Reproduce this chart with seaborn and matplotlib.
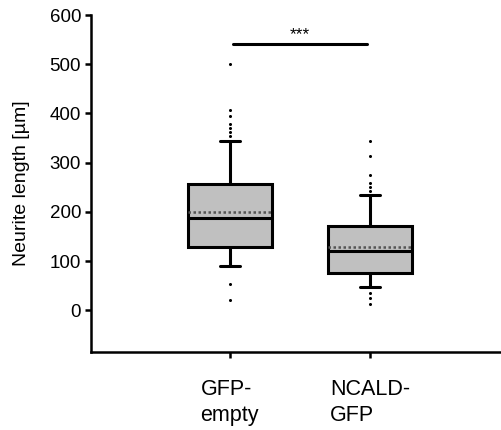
import pandas as pd
import seaborn as sns
import matplotlib
matplotlib.use("Agg")
import matplotlib.pyplot as plt

# Datos (resumen de cada caja)
grupos = ["GFP-\nempty", "NCALD-\nGFP"]
q1 = [128, 75]
mediana = [187, 120]
q3 = [256, 171]
bigote_bajo = [91, 47]
bigote_alto = [345, 234]
media = [199, 128]
atipicos_gfp = [500, 408, 395, 378, 370, 362, 355, 53, 22]
atipicos_ncald = [345, 313, 274, 258, 250, 242, 35, 25, 13]
y_ticks = [0, 100, 200, 300, 400, 500, 600]

sns.set_style("ticks")
plt.rcParams["font.family"] = ["Liberation Sans", "DejaVu Sans"]
plt.rcParams["text.color"] = "black"
plt.rcParams["axes.labelcolor"] = "black"
plt.rcParams["xtick.color"] = "black"
plt.rcParams["ytick.color"] = "black"
plt.rcParams["axes.edgecolor"] = "black"

fig = plt.figure(figsize=(5.02, 4.3), dpi=100)
ax = fig.add_axes([0.181, 0.181, 0.822, 0.784])

# Puntos atipicos con seaborn
df = pd.DataFrame({
    "grupo": [grupos[0]] * len(atipicos_gfp) + [grupos[1]] * len(atipicos_ncald),
    "valor": atipicos_gfp + atipicos_ncald,
})
sns.stripplot(data=df, x="grupo", y="valor", order=grupos, jitter=False,
              color="black", size=2.2, ax=ax, zorder=3)

# Cajas a partir de las estadisticas
stats = []
for i in range(len(grupos)):
    stats.append({"med": mediana[i], "q1": q1[i], "q3": q3[i],
                  "whislo": bigote_bajo[i], "whishi": bigote_alto[i],
                  "mean": media[i], "fliers": []})
ax.bxp(stats, positions=[0, 1], widths=0.6, capwidths=0.14, patch_artist=True,
       showmeans=True, meanline=True, manage_ticks=False,
       boxprops=dict(facecolor="#c0c0c0", edgecolor="black", linewidth=2.2),
       medianprops=dict(color="black", linewidth=2.2),
       meanprops=dict(color="#555555", linestyle=(0, (1, 1)), linewidth=1.8),
       whiskerprops=dict(color="black", linewidth=2.2),
       capprops=dict(color="black", linewidth=2.2))

# Barra de significancia
ax.plot([0.02, 0.98], [541, 541], color="black", linewidth=2.2)
ax.text(0.5, 546, "***", ha="center", va="bottom", fontsize=12.5)

ax.set_xlim(-0.99, 1.95)
ax.set_ylim(-85, 600)
ax.set_yticks(y_ticks)
ax.set_xticks([0, 1])
ax.set_xticklabels(grupos, fontsize=15.5, multialignment="left", linespacing=1.35)
ax.tick_params(axis="y", labelsize=13.5, length=4, width=1.8, pad=3)
ax.tick_params(axis="x", length=4, width=1.8, pad=15)
ax.set_xlabel("")
ax.set_ylabel("Neurite length [µm]", fontsize=14, labelpad=14)
for lado in ["top", "right"]:
    ax.spines[lado].set_visible(False)
for lado in ["left", "bottom"]:
    ax.spines[lado].set_linewidth(1.8)

fig.savefig("out.png", dpi=100)
